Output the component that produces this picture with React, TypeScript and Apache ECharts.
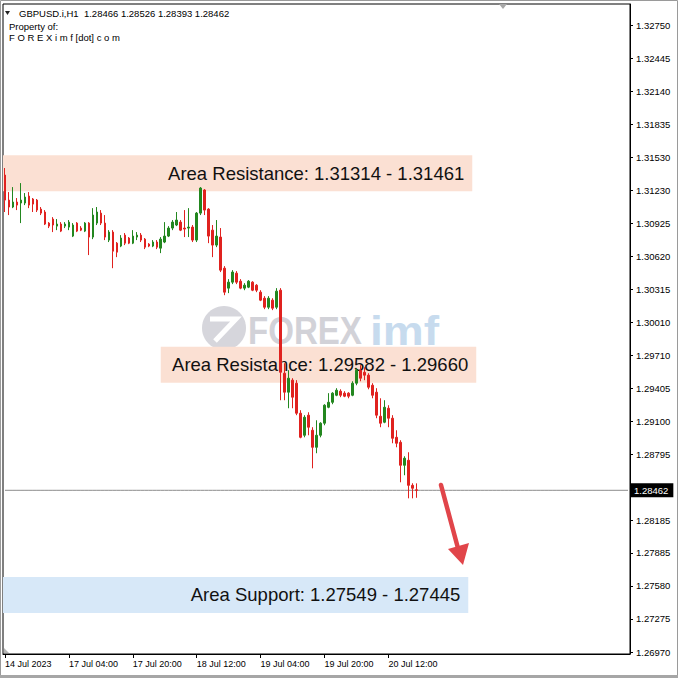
import { useEffect, useRef } from "react";
import * as echarts from "echarts";

// Instrument header
const symbol = "GBPUSD.i";
const timeframe = "H1";

// Time axis: hourly bars, a label every 16 bars
const xTickLabels = [
  "14 Jul 2023",
  "17 Jul 04:00",
  "17 Jul 20:00",
  "18 Jul 12:00",
  "19 Jul 04:00",
  "19 Jul 20:00",
  "20 Jul 12:00",
];
const barsPerTickLabel = 16;
const totalSlots = 157; // bars plus empty room on the right

// Price axis
const yMin = 1.26952;
const yMax = 1.32948;
const yTickValues = [
  1.3275, 1.32445, 1.3214, 1.31835, 1.3153, 1.3123, 1.30925, 1.3062, 1.30315,
  1.3001, 1.2971, 1.29405, 1.291, 1.28795, 1.28185, 1.27885, 1.2758, 1.27275,
  1.2697,
];

// OHLC of each hourly bar
const opens = [
  1.3137, 1.31139, 1.31075, 1.31121, 1.31112, 1.31112, 1.31176, 1.31149, 1.31139, 1.31056,
  1.31029, 1.30927, 1.30964, 1.30899, 1.30918, 1.30899, 1.3089, 1.30807, 1.30927, 1.30881,
  1.30853, 1.30927, 1.30798, 1.30927, 1.31019, 1.30927, 1.3077, 1.30844, 1.30742, 1.30715,
  1.30816, 1.30789, 1.30742, 1.30798, 1.30816, 1.30779, 1.30733, 1.30715, 1.30752, 1.30696,
  1.30752, 1.30807, 1.30881, 1.30909, 1.30936, 1.30881, 1.30881, 1.3089, 1.3077, 1.31019,
  1.31232, 1.31056, 1.30862, 1.30724, 1.30798, 1.30511, 1.30327, 1.30382, 1.30465, 1.30391,
  1.30327, 1.30336, 1.30382, 1.30354, 1.3029, 1.30234, 1.30151, 1.30216, 1.30151, 1.30308,
  1.29542, 1.29367, 1.29478, 1.2945, 1.29173, 1.2897, 1.29155, 1.29016, 1.28859, 1.2897,
  1.29081, 1.29228, 1.29274, 1.29339, 1.29376, 1.29358, 1.29358, 1.29339, 1.2945, 1.2957,
  1.29551, 1.29524, 1.29431, 1.29367, 1.29145, 1.2909, 1.29219, 1.29127, 1.28951, 1.28905,
  1.28693, 1.28739, 1.28508, 1.28466,
];
const highs = [
  1.31435, 1.31213, 1.31259, 1.31158, 1.31296, 1.31204, 1.31213, 1.31158, 1.31149, 1.31075,
  1.31047, 1.30936, 1.30982, 1.30964, 1.30936, 1.30936, 1.30955, 1.30927, 1.30936, 1.30899,
  1.30936, 1.30936, 1.31065, 1.31075, 1.31047, 1.31001, 1.30862, 1.30862, 1.30752, 1.30816,
  1.30835, 1.30798, 1.30862, 1.30844, 1.30835, 1.30789, 1.30742, 1.3077, 1.3077, 1.30798,
  1.30936, 1.30899, 1.30955, 1.31029, 1.30955, 1.31047, 1.31065, 1.30909, 1.31029, 1.31259,
  1.31241, 1.31065, 1.30909, 1.30955, 1.30881, 1.3053, 1.3041, 1.30493, 1.30484, 1.3041,
  1.30373, 1.30401, 1.30391, 1.30364, 1.30308, 1.30253, 1.30253, 1.30234, 1.30327, 1.30327,
  1.29634, 1.2957, 1.29496, 1.29478, 1.29201, 1.29155, 1.29182, 1.29044, 1.29108, 1.2909,
  1.29256, 1.29358, 1.29367, 1.29404, 1.29394, 1.29376, 1.29367, 1.29468, 1.29588, 1.29616,
  1.29597, 1.29542, 1.2945, 1.29404, 1.29311, 1.29293, 1.29247, 1.29155, 1.29016, 1.28924,
  1.28776, 1.28813, 1.28527, 1.28526,
];
const lows = [
  1.31029, 1.31001, 1.31065, 1.31047, 1.30927, 1.31093, 1.31065, 1.31029, 1.31029, 1.31001,
  1.30909, 1.30881, 1.30844, 1.30862, 1.30844, 1.30881, 1.30862, 1.30798, 1.30844, 1.30853,
  1.30844, 1.30632, 1.30779, 1.30909, 1.30909, 1.3077, 1.30752, 1.30511, 1.30613, 1.30705,
  1.30724, 1.30733, 1.30733, 1.3077, 1.30752, 1.30687, 1.30705, 1.30705, 1.30687, 1.3065,
  1.30742, 1.30798, 1.30862, 1.30899, 1.30853, 1.30798, 1.30798, 1.30752, 1.30752, 1.31001,
  1.31001, 1.30742, 1.30613, 1.30705, 1.30475, 1.30262, 1.30281, 1.30364, 1.30364, 1.30317,
  1.30308, 1.30327, 1.30299, 1.3029, 1.30207, 1.30133, 1.30133, 1.30124, 1.30133, 1.29293,
  1.29293, 1.29219, 1.29219, 1.29155, 1.28942, 1.28951, 1.2897, 1.28665, 1.28804, 1.28951,
  1.29062, 1.29219, 1.29256, 1.2933, 1.29321, 1.29321, 1.29311, 1.2933, 1.29431, 1.29468,
  1.29478, 1.29394, 1.29311, 1.29127, 1.29044, 1.29081, 1.29044, 1.28896, 1.28859, 1.28536,
  1.28601, 1.28388, 1.28388, 1.28393,
];
const closes = [
  1.31139, 1.31075, 1.31121, 1.31093, 1.31139, 1.31167, 1.31093, 1.31102, 1.31047, 1.31019,
  1.30918, 1.30899, 1.30909, 1.30918, 1.30853, 1.30918, 1.30936, 1.30909, 1.30853, 1.30862,
  1.30927, 1.30798, 1.31001, 1.31029, 1.30927, 1.30798, 1.30844, 1.30668, 1.30659, 1.30789,
  1.30742, 1.30742, 1.30807, 1.30816, 1.3077, 1.30705, 1.30715, 1.30752, 1.30705, 1.30779,
  1.30807, 1.30881, 1.30936, 1.30955, 1.30862, 1.30872, 1.3089, 1.3077, 1.31019, 1.3125,
  1.31047, 1.30807, 1.30724, 1.30807, 1.30493, 1.3029, 1.30382, 1.30475, 1.30382, 1.30327,
  1.30354, 1.30391, 1.30308, 1.30308, 1.30216, 1.30151, 1.30234, 1.30142, 1.30299, 1.29551,
  1.29367, 1.29496, 1.29321, 1.29173, 1.28951, 1.29136, 1.29044, 1.28859, 1.2897, 1.29081,
  1.29247, 1.29274, 1.29358, 1.29385, 1.29339, 1.2933, 1.2933, 1.2945, 1.2957, 1.29496,
  1.29524, 1.29413, 1.29339, 1.29155, 1.29081, 1.29228, 1.29127, 1.28942, 1.28896, 1.28693,
  1.28758, 1.28508, 1.28481, 1.28462,
];

// Marked price zones; levels are written in the order they are quoted
const zones = [
  { title: "Area Resistance", kind: "resistance", levels: [1.31314, 1.31461], fromBar: null, toBar: 117 },
  { title: "Area Resistance", kind: "resistance", levels: [1.29582, 1.2966], fromBar: 39, toBar: 118 },
  { title: "Area Support", kind: "support", levels: [1.27549, 1.27445], fromBar: null, toBar: 116 },
];

const FONT = "'Liberation Sans', Arial, sans-serif";
const UP = "#23871f";
const DOWN = "#e0221f";
const ZONE_FILL: Record<string, string> = { resistance: "#fbe0d3", support: "#d7e8f8" };
const ZONE_HALF_HEIGHT = 0.00166;

function buildOption() {
  // hourly slots, Friday afternoon then straight into Monday
  const slots: string[] = [];
  const t = new Date(Date.UTC(2023, 6, 14, 12));
  while (slots.length < totalSlots) {
    const day = t.getUTCDay();
    if (day !== 0 && day !== 6) {
      slots.push(t.toISOString().slice(0, 13));
    }
    t.setUTCHours(t.getUTCHours() + 1);
  }
  const lastLabelled = (xTickLabels.length - 1) * barsPerTickLabel;
  const showTick = (i: number) => i % barsPerTickLabel === 0 && i <= lastLabelled;

  const candles = opens.map((o, i) => [o, closes[i], lows[i], highs[i]]);
  const n = closes.length - 1;
  const lastClose = closes[n];
  const fmt = (v: number) => v.toFixed(5);

  const areas = zones.map((z) => {
    const mid = (z.levels[0] + z.levels[1]) / 2;
    const top = mid + ZONE_HALF_HEIGHT;
    const bottom = mid - ZONE_HALF_HEIGHT;
    const start: any = { yAxis: top };
    if (z.fromBar != null) start.xAxis = z.fromBar;
    return [
      {
        ...start,
        name: `${z.title}: ${fmt(z.levels[0])} - ${fmt(z.levels[1])}`,
        itemStyle: { color: ZONE_FILL[z.kind] },
      },
      { xAxis: z.toBar, yAxis: bottom },
    ];
  });

  // bid line: a flat line series across every slot at the last close
  const bidLine = slots.map(() => lastClose);

  const header = `${symbol},${timeframe}  ${fmt(opens[n])} ${fmt(highs[n])} ${fmt(lows[n])} ${fmt(lastClose)}`;

  return {
    animation: false,
    backgroundColor: "#ffffff",
    textStyle: { fontFamily: FONT },
    grid: {
      left: 3,
      right: 48,
      top: 4,
      bottom: 24,
      show: true,
      borderColor: "#000",
      borderWidth: 1,
      containLabel: false,
      outerBoundsMode: "none",
    },
    xAxis: {
      type: "category",
      data: slots,
      boundaryGap: true,
      axisLine: { show: true, lineStyle: { color: "#000", width: 1 } },
      axisTick: {
        show: true,
        alignWithLabel: true,
        length: 4,
        interval: (i: number) => showTick(i),
        lineStyle: { color: "#000" },
      },
      axisLabel: {
        interval: (i: number) => showTick(i),
        formatter: (_: string, i: number) => xTickLabels[i / barsPerTickLabel] ?? "",
        align: "left",
        margin: 5,
        color: "#000",
        fontSize: 9,
        fontFamily: FONT,
      },
      splitLine: { show: false },
    },
    yAxis: {
      type: "value",
      position: "right",
      min: yMin,
      max: yMax,
      axisLine: { show: true, lineStyle: { color: "#000", width: 1 } },
      axisTick: { show: true, length: 3, customValues: yTickValues, lineStyle: { color: "#000" } },
      axisLabel: {
        customValues: yTickValues,
        formatter: (v: number) => fmt(v),
        margin: 6,
        color: "#000",
        fontSize: 9.5,
        fontFamily: FONT,
      },
      splitLine: { show: false },
    },
    series: [
      {
        type: "line",
        data: bidLine,
        z: 1,
        silent: true,
        symbol: "none",
        lineStyle: { color: "#8c8c8c", width: 1 },
        endLabel: {
          show: true,
          distance: 2,
          formatter: () => fmt(lastClose),
          backgroundColor: "#000",
          color: "#fff",
          fontSize: 9.5,
          fontFamily: FONT,
          padding: [2, 5, 2, 4],
        },
      },
      {
        type: "candlestick",
        data: candles,
        barWidth: 2,
        z: 2,
        itemStyle: {
          color: UP,
          color0: DOWN,
          borderColor: UP,
          borderColor0: DOWN,
          borderWidth: 1,
        },
        markArea: {
          silent: true,
          z: 1,
          label: {
            show: true,
            position: "insideRight",
            distance: 8,
            color: "#111",
            fontSize: 18.5,
            fontFamily: FONT,
          },
          data: areas,
        },
      },
    ],
    graphic: {
      elements: [
        // window frame
        { type: "rect", z: 10, shape: { x: 0.5, y: 0.5, width: 677, height: 677 }, style: { fill: "none", stroke: "#9a9a9a", lineWidth: 1 } },
        { type: "rect", z: 10, shape: { x: 0, y: 675, width: 678, height: 3 }, style: { fill: "#a6a6a6" } },
        // chart header
        { type: "polygon", z: 10, shape: { points: [[5, 11], [10, 11], [7.5, 15]] }, style: { fill: "#222" } },
        { type: "text", z: 10, x: 19, y: 13, style: { text: header, font: `9.5px ${FONT}`, fill: "#000", verticalAlign: "middle" } },
        { type: "text", z: 10, x: 9, y: 26, style: { text: "Property of:", font: `9.5px ${FONT}`, fill: "#000", verticalAlign: "middle" } },
        { type: "text", z: 10, x: 9, y: 37.5, style: { text: "F O R E X i m f [dot] c o m", font: `9.5px ${FONT}`, fill: "#000", verticalAlign: "middle" } },
        // shift markers
        { type: "polygon", z: 10, shape: { points: [[499, 4], [507, 4], [503, 9]] }, style: { fill: "#a8a8a8" } },
        { type: "polygon", z: 10, shape: { points: [[4, 648], [4, 653], [9, 653]] }, style: { fill: "#b4b4b4" } },
        // watermark
        { type: "circle", z: 0, shape: { cx: 224, cy: 328, r: 22 }, style: { fill: "#d6d6dc" } },
        { type: "polyline", z: 0, shape: { points: [[210, 319], [236, 319], [215, 341]] }, style: { stroke: "#fff", lineWidth: 5, fill: "none" } },
        { type: "text", z: 0, x: 248, y: 331, scaleX: 0.87, style: { text: "FOREX", font: `bold 38px ${FONT}`, fill: "#d2d2d8", verticalAlign: "middle" } },
        { type: "text", z: 0, x: 370, y: 331, scaleX: 1.15, style: { text: "imf", font: `bold 40px ${FONT}`, fill: "#c7dbee", verticalAlign: "middle" } },
        // projected move
        { type: "polyline", z: 10, shape: { points: [[441, 485], [459, 552]] }, style: { stroke: "#e1454a", lineWidth: 4.5, lineCap: "round", fill: "none" } },
        { type: "polygon", z: 10, shape: { points: [[448, 549], [463, 565], [469, 543]] }, style: { fill: "#e1454a" } },
      ],
    },
  };
}

export default function App() {
  const ref = useRef<HTMLDivElement>(null);
  useEffect(() => {
    if (!ref.current) return;
    const chart = echarts.init(ref.current, null, { renderer: "svg" });
    chart.setOption(buildOption() as any);
    return () => chart.dispose();
  }, []);
  return (
    <div
      ref={ref}
      style={{ position: "fixed", left: 0, top: 0, width: 678, height: 678, background: "#fff" }}
    />
  );
}
